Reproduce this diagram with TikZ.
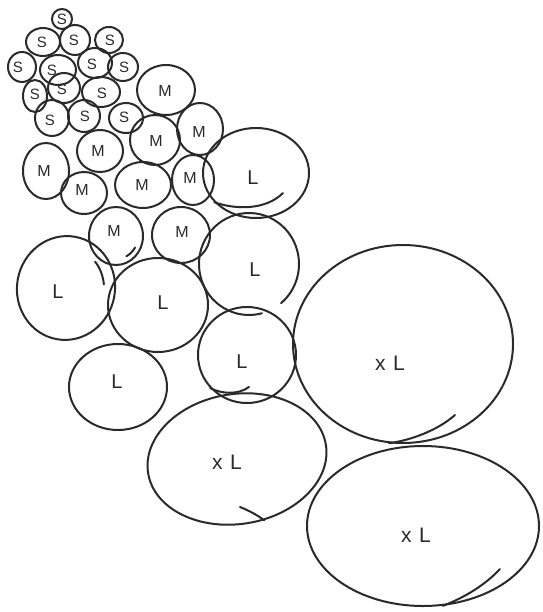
\documentclass[tikz,border=0pt]{standalone}
\usepackage{fontspec}
\setmainfont{Liberation Sans}
\usetikzlibrary{shapes.geometric}
\definecolor{ink}{HTML}{2A2A2A}
\tikzset{
  blob/.style={draw=ink, line width=2pt, shape=ellipse, inner sep=0pt},
  tail/.style={draw=ink, line width=2pt, line cap=round},
  lab/.style={text=ink, inner sep=0pt},
  sz/.style={font=\fontsize{15}{15}\selectfont},
  mz/.style={font=\fontsize{16}{16}\selectfont},
  lz/.style={font=\fontsize{20}{20}\selectfont},
  xz/.style={font=\fontsize{21}{21}\selectfont},
}
\newcommand\blob[8]{%
  \node[blob, minimum width={2*#3}, minimum height={2*#4}, rotate=#5] (#1) at (#2) {};
  \node[lab,#8] (#1t) at (#7) {#6};}
% concentric arc: name, rx, ry, start, end
\newcommand\tailarc[5]{%
  \draw[tail] (#1.center) ++(#4:#2 and #3) arc[start angle=#4, end angle=#5, x radius=#2, y radius=#3];}
\begin{document}
\begin{tikzpicture}[x=1pt,y=-1pt]
\useasboundingbox (0,0) rectangle (542,612);
% S
\blob{s1}{62,19}{10}{10}{0}{S}{62,19}{sz}
\blob{s2}{43,42}{17}{14}{0}{S}{42,42}{sz}
\blob{s3}{75,40}{15}{15}{0}{S}{74,40}{sz}
\blob{s4}{109,40}{14}{13}{0}{S}{110,40}{sz}
\blob{s5}{22,67}{14}{15}{0}{S}{18,67}{sz}
\blob{s6}{58,70}{18}{15}{0}{S}{52,70}{sz}
\blob{s7}{95,63}{17}{15}{0}{S}{92,64}{sz}
\blob{s8}{123,67}{15}{14}{0}{S}{124,67}{sz}
\blob{s9}{35,96}{12}{16}{0}{S}{35,94}{sz}
\blob{s10}{64,88}{16}{15}{0}{S}{62,89}{sz}
\blob{s11}{101,92}{19}{15}{0}{S}{102,93}{sz}
\blob{s12}{52,118}{17}{18}{0}{S}{50,120}{sz}
\blob{s13}{84,116}{16}{16}{0}{S}{85,116}{sz}
\blob{s14}{126,118}{17}{15}{0}{S}{124,117}{sz}
% M
\blob{m1}{166,90}{29}{25}{0}{M}{165,91}{mz}
\blob{m2}{200,129}{23}{26}{0}{M}{199,132}{mz}
\blob{m3}{155,140}{25}{25}{0}{M}{156,141}{mz}
\blob{m4}{100,151}{23}{21}{0}{M}{98,151}{mz}
\blob{m5}{46,171}{23}{28}{0}{M}{44,171}{mz}
\blob{m6}{84,193}{23}{21}{0}{M}{82,190}{mz}
\blob{m7}{143,185}{28}{23}{0}{M}{142,185}{mz}
\blob{m8}{193,180}{21}{25}{0}{M}{190,178}{mz}
\blob{m9}{116,236}{27}{29}{0}{M}{114,231}{mz}
\blob{m10}{181,235}{29}{28}{0}{M}{182,232}{mz}
% L
\blob{l1}{256,173}{53}{45}{0}{L}{253,178}{lz}
\node[blob, draw=none, minimum width=100, minimum height=102] (l2) at (249,264) {};
\node[lab,lz] (l2t) at (255,270) {L};
\tailarc{l2}{50}{51}{75}{410}
\blob{l3}{66,288}{49}{52}{-10}{L}{58,292}{lz}
\blob{l4}{158,305}{50}{47}{0}{L}{163,303}{lz}
\blob{l5}{118,387}{49}{43}{0}{L}{117,382}{lz}
\blob{l6}{247,355}{49}{48}{0}{L}{242,362}{lz}
% XL
\blob{xl1}{403,344}{110}{99}{0}{x\hspace{0.35em}L}{390,363}{xz}
\blob{xl2}{237,459}{90}{65}{9}{x\hspace{0.35em}L}{227,462}{xz}
\blob{xl3}{423,526}{116}{80}{0}{x\hspace{0.35em}L}{416,535}{xz}
% hand-drawn overlapping stroke ends
\coordinate (xl1e) at (455,415);
\draw[tail] (xl1e) .. controls (438,430) and (412,440) .. (xl1.262);
\coordinate (xl2e) at (240,507);
\draw[tail] (xl2e) .. controls (250,511) and (257,515) .. (xl2.285);
\coordinate (xl3e) at (500,569);
\draw[tail] (xl3e) .. controls (486,584) and (466,597) .. (xl3.284);
\coordinate (l1e) at (283,193);
\draw[tail] (l1e) .. controls (266,210) and (236,210) .. (l1.215);
\coordinate (l6e) at (249,387);
\draw[tail] (l6e) .. controls (238,395) and (222,394) .. (l6.222);
\tailarc{l3}{38}{41}{-40}{-5}
\tailarc{m9}{22}{23}{30}{62}
\end{tikzpicture}
\end{document}
